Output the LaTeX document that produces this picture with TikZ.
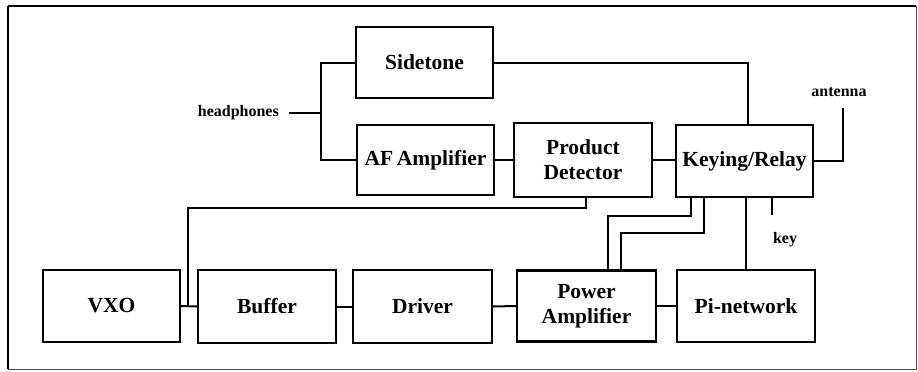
\documentclass[tikz,border=0pt]{standalone}
\usepackage{fontspec}
\setmainfont{Liberation Serif}
\begin{document}
\begin{tikzpicture}[x=1pt,y=-1pt,
  blk/.style={draw,line width=2.2pt,minimum width=137pt,minimum height=72pt,inner sep=0pt,
    align=center,font=\fontsize{21.5}{25}\selectfont\bfseries},
  wire/.style={line width=2pt},
  lbl/.style={font=\fontsize{16}{18}\selectfont\bfseries,inner sep=0pt}]
\useasboundingbox (0,0) rectangle (918,372);
\draw[line width=2pt] (8,6) -- (8,369);
\draw[line width=1.6pt] (8,6) -- (916,6);
\draw[line width=1pt,black!70] (8,369) -- (916,369) -- (916,6);
% blocks
\node[blk,minimum height=71pt] (side) at (424.5,62.5) {Sidetone};
\node[blk,minimum height=70pt] (af) at (425.5,160) {AF\,Amplifier};
\node[blk,minimum width=138pt,minimum height=74pt] (pd) at (583,160) {Product\\Detector};
\node[blk] (kr) at (744.5,161) {Keying/Relay};
\node[blk] (vxo) at (111.5,306) {VXO};
\node[blk,minimum width=138pt,minimum height=73pt] (buf) at (267,306.5) {Buffer};
\node[blk,minimum width=139pt,minimum height=73pt] (drv) at (422.5,306.5) {Driver};
\node[blk,minimum width=139pt,minimum height=71pt] (pa) at (586.5,306) {Power\\Amplifier};
\node[blk,minimum width=138pt] (pi) at (746,306) {Pi-network};
% labels
\node[lbl,anchor=east] (hp) at (279,113) {headphones};
\node[lbl] (ant) at (839,92) {antenna};
\node[lbl] (key) at (785,240) {key};
% coordinates
\coordinate (hpa) at (289,113);
\coordinate (hpj) at (322,113);
\coordinate (antc) at (843,108);
\coordinate (keyc) at (772,215);
\coordinate (k1) at (691,216);
\coordinate (k2) at (704,233);
\coordinate (pj) at (188,208);
% wires
\draw[wire] (hpa) -- (hpj);
\draw[wire] (side.west) -- ++(-34,0) |- (af.west);
\draw[wire] (side.east) -| ([xshift=3.5pt]kr.north);
\draw[wire] (af.east) -- (pd.west);
\draw[wire] (pd.east) -- (pd.east -| kr.west);
\draw[wire] (kr.east) -| (antc);
\draw[wire] (kr.south -| keyc) -- (keyc);
\draw[wire] (kr.south -| pi.north) -- (pi.north);
\draw[wire] (kr.south -| k1) -- (k1) -| ([xshift=21.5pt]pa.north);
\draw[wire] (kr.south -| k2) -- (k2) -| ([xshift=34.5pt]pa.north);
\draw[wire] ([xshift=3pt]pd.south) |- (pj) -- (pj |- vxo.east);
\draw[wire] (vxo.east) -- (buf.west);
\draw[wire] (buf.east) -- (drv.west);
\draw[wire] (drv.east) -- (pa.west);
\draw[wire] (pa.east) -- (pi.west);
\end{tikzpicture}
\end{document}
